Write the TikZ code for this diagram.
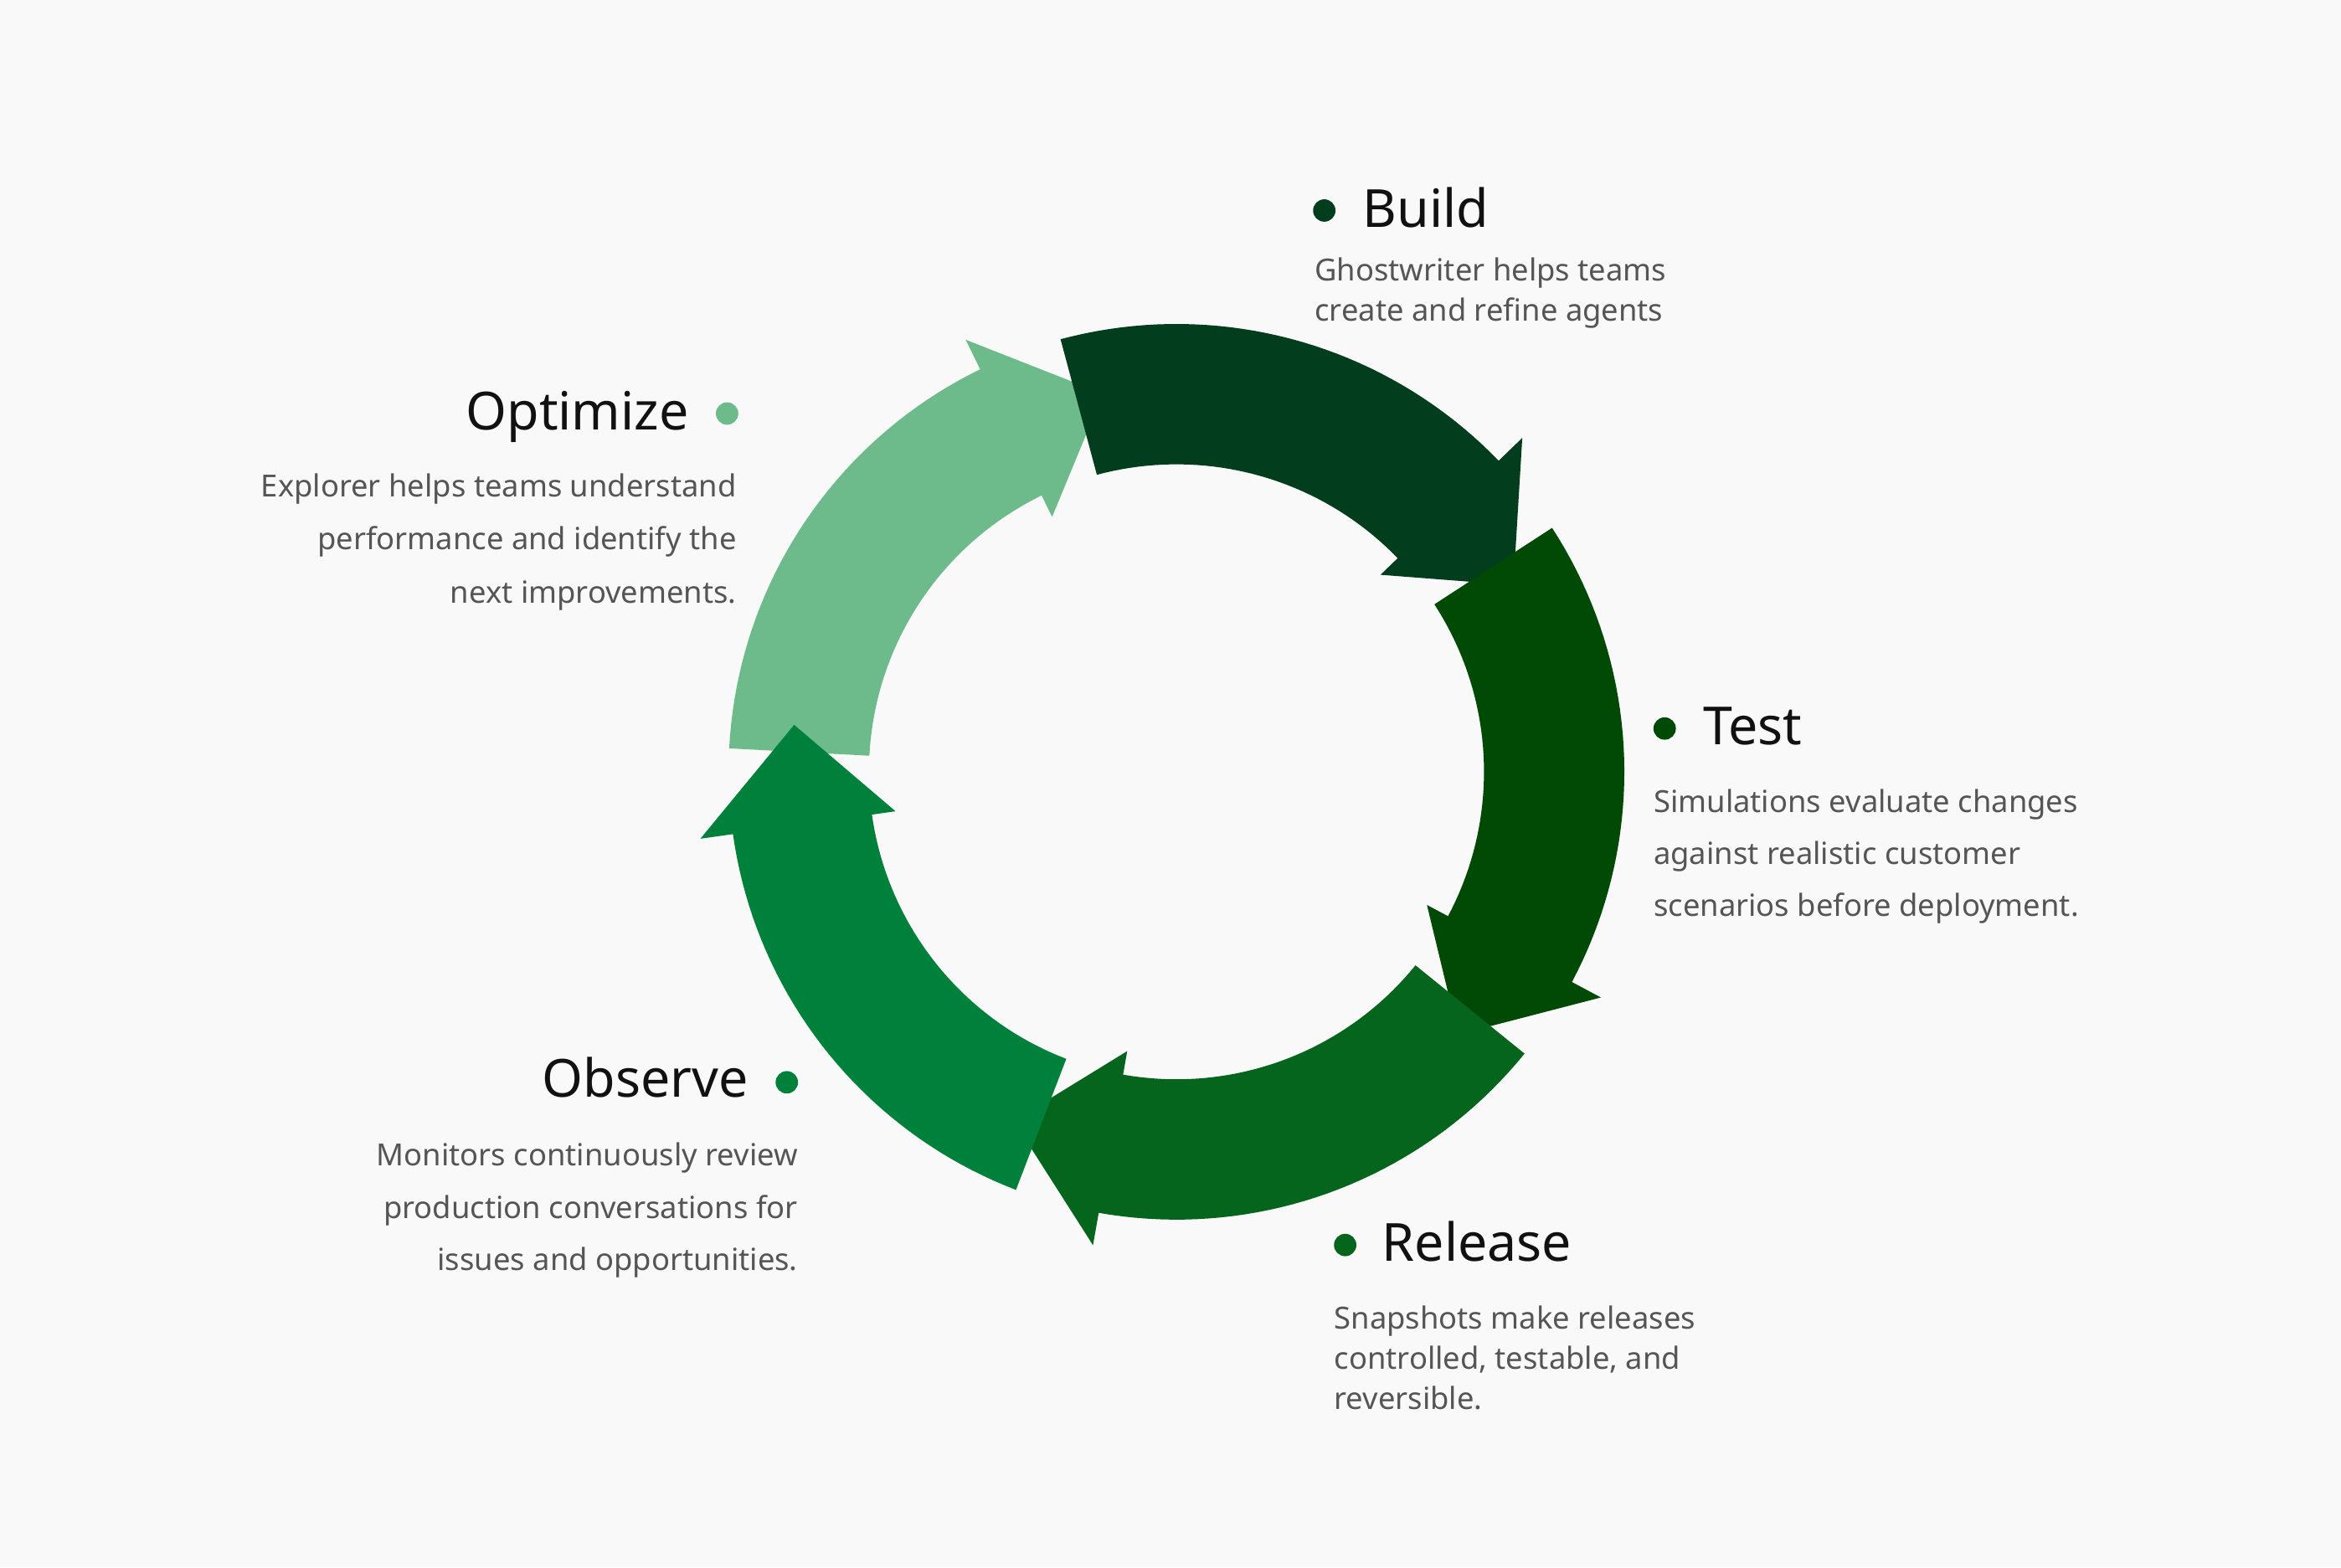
\documentclass[tikz,border=0pt]{standalone}
\usepackage{fontspec}
\setmainfont{Noto Sans}
\definecolor{bg}{HTML}{F9F9F9}
\definecolor{cBuild}{HTML}{023D1E}
\definecolor{cTest}{HTML}{004A06}
\definecolor{cRelease}{HTML}{05651C}
\definecolor{cObserve}{HTML}{00813B}
\definecolor{cOpt}{HTML}{6DBB8A}
\definecolor{ink}{HTML}{111111}
\definecolor{body}{HTML}{555555}
\begin{document}
\begin{tikzpicture}[x=0.01cm,y=-0.01cm,
  title/.style={font=\fontsize{10pt}{12pt}\selectfont\bfseries, text=ink, inner sep=0pt},
  desc/.style={font=\fontsize{5.8pt}{7pt}\selectfont, text=body, inner sep=0pt},
  dot/.style={circle, minimum size=0.15cm, inner sep=0pt}]
\fill[bg] (0,0) rectangle (1568,1050);
\useasboundingbox (0,0) rectangle (1568,1050);
% arrows: tip angle t
\newcommand{\cyclearrow}[2]{%
  \pgfmathsetmacro{\ta}{#1}\pgfmathsetmacro{\tb}{#1+15}\pgfmathsetmacro{\tt}{#1+76}%
  \fill[#2] plot[domain=\tt:\tb, samples=40] (\x:300) -- (\tb:322) -- (\ta:258) -- (\tb:190) -- (\tb:206)
     -- plot[domain=\tb:\tt, samples=40] (\x:206) -- cycle;}
\begin{scope}[shift={(788,517)}, yscale=-1]
\cyclearrow{101}{cOpt}
\cyclearrow{29}{cBuild}
\cyclearrow{-43}{cTest}
\cyclearrow{-115}{cRelease}
\cyclearrow{-187}{cObserve}
\end{scope}
% Build
\node[dot, fill=cBuild] (bd) at (887,141) {};
\node[title, anchor=base west] (bt) at (912,152) {Build};
\node[desc, anchor=base west] (b1) at (880,188) {Ghostwriter helps teams};
\node[desc, anchor=base west] (b2) at (880,215) {create and refine agents};
% Optimize
\node[dot, fill=cOpt] (od) at (487,277) {};
\node[title, anchor=base east] (ot) at (462,288) {Optimize};
\node[desc, anchor=base east] (o1) at (494,333) {Explorer helps teams understand};
\node[desc, anchor=base east] (o2) at (494,368) {performance and identify the};
\node[desc, anchor=base east] (o3) at (494,404) {next improvements.};
% Test
\node[dot, fill=cTest] (td) at (1115,488) {};
\node[title, anchor=base west] (tt) at (1140,499) {Test};
\node[desc, anchor=base west] (t1) at (1107,544) {Simulations evaluate changes};
\node[desc, anchor=base west] (t2) at (1107,579) {against realistic customer};
\node[desc, anchor=base west] (t3) at (1107,614) {scenarios before deployment.};
% Observe
\node[dot, fill=cObserve] (vd) at (527,725) {};
\node[title, anchor=base east] (vt) at (502,735) {Observe};
\node[desc, anchor=base east] (v1) at (535,781) {Monitors continuously review};
\node[desc, anchor=base east] (v2) at (535,816) {production conversations for};
\node[desc, anchor=base east] (v3) at (535,851) {issues and opportunities.};
% Release
\node[dot, fill=cRelease] (rd) at (901,834) {};
\node[title, anchor=base west] (rt) at (925,845) {Release};
\node[desc, anchor=base west] (r1) at (893,890) {Snapshots make releases};
\node[desc, anchor=base west] (r2) at (893,917) {controlled, testable, and};
\node[desc, anchor=base west] (r3) at (893,944) {reversible.};
\end{tikzpicture}
\end{document}
